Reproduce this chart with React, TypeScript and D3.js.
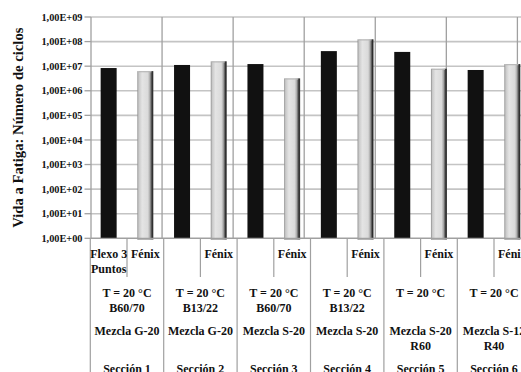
import React from "react";
import * as d3 from "d3";

// Fatigue life per section: tests with Flexo 3 Puntos (first column) and Fénix (second column)
const sections = ["Sección 1", "Sección 2", "Sección 3", "Sección 4", "Sección 5", "Sección 6"];
const conditions = [
  ["T = 20 °C", "B60/70"],
  ["T = 20 °C", "B13/22"],
  ["T = 20 °C", "B60/70"],
  ["T = 20 °C", "B13/22"],
  ["T = 20 °C"],
  ["T = 20 °C"],
];
const mixtures = [
  ["Mezcla G-20"],
  ["Mezcla G-20"],
  ["Mezcla S-20"],
  ["Mezcla S-20"],
  ["Mezcla S-20", "R60"],
  ["Mezcla S-12", "R40"],
];
const testLabels = [
  [["Flexo 3", "Puntos"], ["Fénix"]],
  [[], ["Fénix"]],
  [[], ["Fénix"]],
  [[], ["Fénix"]],
  [[], ["Fénix"]],
  [[], ["Fénix"]],
];
const flexoValues = [8.4e6, 1.12e7, 1.22e7, 4.1e7, 3.8e7, 7.0e6];
const fenixValues = [6.3e6, 1.58e7, 3.2e6, 1.24e8, 7.9e6, 1.22e7];
const yTicks = [1e0, 1e1, 1e2, 1e3, 1e4, 1e5, 1e6, 1e7, 1e8, 1e9];
const yTitle = "Vida a Fatiga: Número de ciclos";

const FONT = "'Liberation Serif', 'Times New Roman', serif";

function formatSci(v: number) {
  const e = Math.round(Math.log10(v));
  const m = (v / Math.pow(10, e)).toFixed(2).replace(".", ",");
  return `${m}E+${String(e).padStart(2, "0")}`;
}

export default function App() {
  const plotLeft = 91;
  const plotTop = 17;
  const plotBottom = 238.3;
  const svgW = 560;
  const svgH = 372;

  const y = d3.scaleLog().domain([1, 1e9]).range([plotBottom, plotTop]);

  const nCat = sections.length * 2;
  const x = d3
    .scaleBand<number>()
    .domain(d3.range(nCat))
    .range([90.3, 90.3 + 36.7 * nCat])
    .padding(0);
  const bw = x.bandwidth();
  const barW = 16;

  // section dividers inside the plot area
  const gx = d3.scaleLinear().domain([0, sections.length]).range([plotLeft, 517.4]);

  const bars = sections.flatMap((_, s) => [
    { i: s * 2, v: flexoValues[s], kind: "flexo" },
    { i: s * 2 + 1, v: fenixValues[s], kind: "fenix" },
  ]);

  const gridColor = "#c4c4c4";
  const lineColor = "#a0a0a0";
  const ink = "#111";

  return (
    <div style={{ position: "absolute", left: 0, top: 0, width: 521, height: 372, overflow: "hidden", background: "#fff" }}>
      <svg width={svgW} height={svgH} style={{ display: "block" }} fontFamily={FONT}>
        <defs>
          <linearGradient id="cyl" x1="0" x2="1" y1="0" y2="0">
            <stop offset="0" stopColor="#8c8c8c" />
            <stop offset="0.09" stopColor="#c8c8c8" />
            <stop offset="0.3" stopColor="#e4e4e4" />
            <stop offset="0.66" stopColor="#dadada" />
            <stop offset="0.78" stopColor="#ababab" />
            <stop offset="0.86" stopColor="#666" />
            <stop offset="0.93" stopColor="#2a2a2a" />
            <stop offset="1" stopColor="#444" />
          </linearGradient>
        </defs>

        {/* horizontal gridlines */}
        {yTicks.map((t) => (
          <line key={"g" + t} x1={plotLeft} x2={svgW} y1={y(t)} y2={y(t)} stroke={gridColor} strokeWidth={1.6} />
        ))}

        {/* vertical section dividers in the plot */}
        {d3.range(1, sections.length + 1).map((k) => (
          <line key={"v" + k} x1={gx(k)} x2={gx(k)} y1={plotTop} y2={plotBottom} stroke={lineColor} strokeWidth={1.3} />
        ))}

        {/* bars */}
        {bars.map((b) => {
          const cx = (x(b.i) as number) + bw / 2;
          const top = y(b.v);
          if (b.kind === "flexo") {
            return <rect key={b.i} x={cx - barW / 2} y={top} width={barW} height={plotBottom - top} fill="#111" />;
          }
          return (
            <g key={b.i}>
              <rect x={cx - barW / 2} y={top} width={barW} height={plotBottom + 1 - top} fill="url(#cyl)" />
              <rect x={cx - barW / 2 + 1} y={top} width={barW - 3} height={1.2} fill="#b8b8b8" />
              <rect x={cx - barW / 2} y={plotBottom} width={barW} height={1.2} fill="#777" />
            </g>
          );
        })}

        {/* axes */}
        <line x1={plotLeft} x2={plotLeft} y1={plotTop} y2={plotBottom} stroke={lineColor} strokeWidth={1.3} />
        <line x1={plotLeft} x2={svgW} y1={plotBottom} y2={plotBottom} stroke={lineColor} strokeWidth={1.3} />
        {yTicks.map((t) => (
          <g key={"t" + t}>
            <line x1={84.5} x2={plotLeft} y1={y(t)} y2={y(t)} stroke={lineColor} strokeWidth={1.3} />
            <text x={82.5} y={y(t)} dy="0.35em" textAnchor="end" fontSize={10.3} fontWeight="bold" fill={ink}>
              {formatSci(t)}
            </text>
          </g>
        ))}

        {/* y-axis title */}
        <text
          transform={`translate(23, ${(plotTop + plotBottom) / 2}) rotate(-90)`}
          textAnchor="middle"
          fontSize={14.7}
          fontWeight="bold"
          fill={ink}
        >
          {yTitle}
        </text>

        {/* category axis: separators */}
        {d3.range(0, nCat + 1).map((k) => {
          const xx = k === nCat ? x.range()[1] : (x(k) as number);
          const isSection = k % 2 === 0;
          return (
            <line
              key={"s" + k}
              x1={xx}
              x2={xx}
              y1={plotBottom}
              y2={isSection ? svgH : 277}
              stroke={lineColor}
              strokeWidth={1.2}
            />
          );
        })}

        {/* level 1: test type */}
        {testLabels.map((pair, s) =>
          pair.map((lines, j) => {
            const cx = (x(s * 2 + j) as number) + bw / 2;
            return lines.map((ln, li) => (
              <text key={`l1-${s}-${j}-${li}`} x={cx} y={258 + li * 15} textAnchor="middle" fontSize={12} fontWeight="bold" fill={ink}>
                {ln}
              </text>
            ));
          })
        )}

        {/* level 2: temperature and binder */}
        {conditions.map((lines, s) => {
          const cx = (x(s * 2) as number) + bw;
          return lines.map((ln, li) => (
            <text key={`l2-${s}-${li}`} x={cx} y={296.5 + li * 15.5} textAnchor="middle" fontSize={12} fontWeight="bold" fill={ink}>
              {ln}
            </text>
          ));
        })}

        {/* level 3: mixture */}
        {mixtures.map((lines, s) => {
          const cx = (x(s * 2) as number) + bw;
          return lines.map((ln, li) => (
            <text key={`l3-${s}-${li}`} x={cx} y={334.5 + li * 15.5} textAnchor="middle" fontSize={12} fontWeight="bold" fill={ink}>
              {ln}
            </text>
          ));
        })}

        {/* level 4: section */}
        {sections.map((name, s) => {
          const cx = (x(s * 2) as number) + bw;
          return (
            <text key={`l4-${s}`} x={cx} y={372.5} textAnchor="middle" fontSize={12} fontWeight="bold" fill={ink}>
              {name}
            </text>
          );
        })}
      </svg>
    </div>
  );
}
